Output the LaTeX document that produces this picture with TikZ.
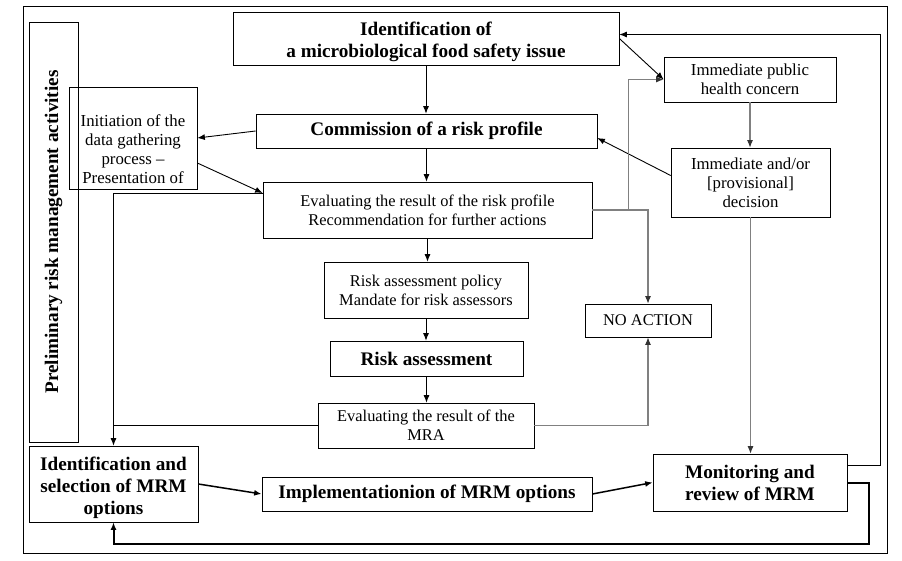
\documentclass[tikz,border=0pt]{standalone}
\usepackage{fontspec}
\setmainfont{Liberation Serif}
\usepackage{tikz}
\usetikzlibrary{arrows.meta}
\newcommand{\dropline}[1]{\rule{0pt}{#1}}

\begin{document}
\begin{tikzpicture}[x=1pt,y=-1pt,
		box/.style={draw, line width=0.7pt, align=center, inner sep=1pt},
		big/.style={font=\fontsize{19.2}{22}\selectfont\bfseries},
		txt/.style={font=\fontsize{16.8}{19}\selectfont},
		sml/.style={font=\fontsize{16.4}{19}\selectfont},
		arr/.style={-{Latex[length=7.5pt,width=6pt]}, line width=0.9pt},
		thk/.style={-{Latex[length=7.5pt,width=6pt]}, line width=1.5pt},
		gry/.style={-{Latex[length=7.5pt,width=6pt,color=black!80]}, line width=1.1pt, draw=black!50}]
		\useasboundingbox (0,0) rectangle (902,560);
		\draw[line width=0.8pt] (23,6) rectangle (887,553);
		\node[box,big,rotate=90,minimum width=420,minimum height=49] (prelim) at (53.5,232) {Preliminary risk management activities};
		\node[box,big,minimum width=386,minimum height=53] (ident) at (426,38.5) {\dropline{21pt}Identification of\\a microbiological food safety issue};
		\node[box,big,minimum width=341,minimum height=34] (comm) at (426.5,131) {Commission of a risk profile};
		\node[box,txt,minimum width=128,minimum height=102] (init) at (133,138) {\dropline{35pt}Initiation of the\\data gathering\\process --\\Presentation of};
		\node[box,sml,minimum width=329,minimum height=56] (evrp) at (427.5,210) {Evaluating the result of the risk profile\\Recommendation for further actions};
		\node[box,sml,minimum width=204,minimum height=56] (policy) at (426,290) {Risk assessment policy\\Mandate for risk assessors};
		\node[box,big,minimum width=193,minimum height=35] (ra) at (426.5,358.5) {Risk assessment};
		\node[box,sml,minimum width=216,minimum height=45] (evmra) at (426,425.5) {Evaluating the result of the\\MRA};
		\node[box,sml,minimum width=126,minimum height=33] (noact) at (648,320.5) {NO ACTION};
		\node[box,txt,minimum width=172,minimum height=45] (phc) at (750,79.5) {Immediate public\\health concern};
		\node[box,txt,minimum width=159,minimum height=69] (decis) at (750.5,182.5) {Immediate and/or\\{[provisional]}\\decision};
		\node[box,big,minimum width=169,minimum height=76] (idsel) at (113.5,484) {\dropline{21pt}Identification and\\selection of MRM\\options};
		\node[box,big,minimum width=330,minimum height=34] (impl) at (427,494) {Implementationion of MRM options};
		\node[box,big,minimum width=194,minimum height=57] (mon) at (750,482.5) {Monitoring and\\review of MRM};
		\coordinate (brk) at ([xshift=36pt]evrp.east);

		\draw[arr] (ident.south) -- (ident.south |- comm.north);
		\draw[arr] (comm.south) -- (comm.south |- evrp.north);
		\draw[arr] (evrp.south) -- (evrp.south |- policy.north);
		\draw[arr] (policy.south) -- (policy.south |- ra.north);
		\draw[arr] (ra.south) -- (ra.south |- evmra.north);
		\draw[arr] (comm.west) -- (init.east);
		\draw[arr] ([yshift=-25pt]init.east) -- ([yshift=17pt]evrp.west);
		\draw[arr] ([yshift=17pt]evrp.west) -| (idsel.north);
		\draw[line width=0.9pt] (evmra.west) -- (evmra.west -| idsel.north);
		\draw[arr] (ident.east) -- (phc.west);
		\draw[arr] ([yshift=7pt]decis.west) -- ([yshift=-7pt]comm.east);
		\draw[gry] (evrp.east) -| (noact.north);
		\draw[gry] (brk) |- (phc.west);
		\draw[gry] (phc.south) -- (phc.south |- decis.north);
		\draw[gry] (decis.south) -- (decis.south |- mon.north);
		\draw[gry] (evmra.east) -| (noact.south);
		\draw[arr] ([yshift=17pt]mon.east) -- ++(33,0) |- ([yshift=4pt]ident.east);
		\draw[thk,line width=2pt] (mon.east) -- ++(22,0) -- ++(0,61) -| (idsel.south);
		\draw[thk] (idsel.east) -- (impl.west);
		\draw[thk] (impl.east) -- (mon.west);
	\end{tikzpicture}
\end{document}
